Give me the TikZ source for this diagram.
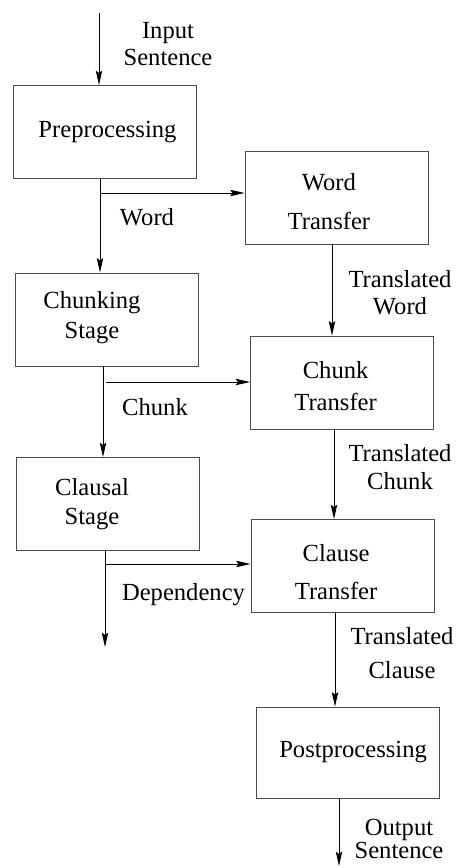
\documentclass[tikz,border=0pt]{standalone}
\usepackage{fontspec}
\setmainfont{Liberation Serif}
\newfontfamily\serif{Liberation Serif}
\usetikzlibrary{arrows.meta}

\tikzset{
    box/.style={draw=black!70, line width=0.6pt, minimum width=4.575cm, minimum height=2.325cm, inner sep=0pt},
    boxtxt/.style={align=center, inner sep=0pt, font=\serif\fontsize{17.5}{21}\selectfont},
    lbl/.style={align=center, inner sep=0pt, font=\serif\fontsize{17.5}{19}\selectfont},
    flow/.style={draw=black, line width=0.7pt, -{Stealth[length=3.6mm, width=1.6mm, inset=0.6mm]}}
}

\begin{document}
\begin{tikzpicture}
    \useasboundingbox (0,0) rectangle (11.475,-21.7);

    % stages on the left, transfer modules on the right
    \node[box, label={[boxtxt, xshift=0.75mm]center:Preprocessing}] (pre) at (2.6125,-3.3) {};
    \node[box, label={[boxtxt, xshift=-1.9mm, yshift=-1mm]center:{Word\\[2.3mm]Transfer}}] (word) at (8.4125,-4.9375) {};
    \node[box, label={[boxtxt, xshift=-3.75mm, yshift=0.5mm]center:{Chunking\\[0.3mm]Stage}}] (chunking) at (2.675,-7.9875) {};
    \node[box, label={[boxtxt, xshift=-1.6mm, yshift=-0.9mm]center:{Chunk\\[0.5mm]Transfer}}] (chunk) at (8.55,-9.5625) {};
    \node[box, label={[boxtxt, xshift=-4mm]center:{Clausal\\Stage}}] (clausal) at (2.7,-12.6) {};
    \node[box, label={[boxtxt, xshift=-1.6mm, yshift=-1.5mm]center:{Clause\\[2.1mm]Transfer}}] (clause) at (8.5625,-14.15) {};
    \node[box, minimum height=2.275cm, label={[boxtxt, xshift=1.4mm]center:Postprocessing}] (post) at (8.6875,-18.8125) {};

    % where the lines run
    \coordinate (input) at (2.475,-0.325);
    \coordinate (wordsplit) at (2.5,-4.825);
    \coordinate (chunksplit) at (2.575,-9.55);
    \coordinate (depsplit) at (2.625,-14.1);
    \coordinate (depend) at (2.625,-16.175);
    \coordinate (trword) at (8.3,0);
    \coordinate (trchunk) at (8.35,0);
    \coordinate (trclause) at (8.375,0);
    \coordinate (output) at (8.475,-21.65);

    \draw[flow] (input) -- (input |- pre.north);
    \draw[flow] (wordsplit |- pre.south) -- (wordsplit |- chunking.north);
    \draw[flow] (wordsplit) -- (wordsplit -| word.west);
    \draw[flow] (chunksplit |- chunking.south) -- (chunksplit |- clausal.north);
    \draw[flow] ([xshift=0.8mm]chunksplit) -- (chunksplit -| chunk.west);
    \draw[flow] (depsplit |- clausal.south) -- (depend);
    \draw[flow] (depsplit) -- (depsplit -| clause.west);
    \draw[flow] (trword |- word.south) -- (trword |- chunk.north);
    \draw[flow] (trchunk |- chunk.south) -- (trchunk |- clause.north);
    \draw[flow] (trclause |- clause.south) -- (trclause |- post.north);
    \draw[flow] (output |- post.south) -- (output);

    \node[lbl] (inlbl) at (4.2,-1.1) {Input\\Sentence};
    \node[lbl] (wordlbl) at (3.675,-5.425) {Word};
    \node[lbl] (trwordlbl) at (10.0,-7.325) {Translated\\Word};
    \node[lbl] (chunklbl) at (3.875,-10.175) {Chunk};
    \node[lbl] (trchunklbl) at (10.0,-11.675) {Translated\\[0.5mm]Chunk};
    \node[lbl] (deplbl) at (4.5875,-14.87) {Dependency};
    \node[lbl] (trclauselbl) at (10.05,-16.3375) {Translated\\[1.8mm]Clause};
    \node[lbl] (outlbl) at (9.975,-20.975) {Output\\[-0.7mm]Sentence};
\end{tikzpicture}
\end{document}
